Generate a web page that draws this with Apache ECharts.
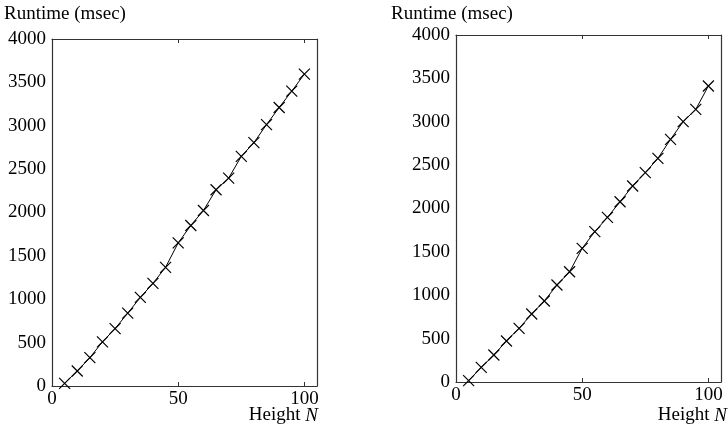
<!DOCTYPE html>
<html>
<head>
<meta charset="utf-8">
<script src="https://cdn.jsdelivr.net/npm/echarts@6/dist/echarts.min.js"></script>
<style>
html,body{margin:0;padding:0;background:#fff;}
#c{width:728px;height:428px;}
</style>
</head>
<body>
<div id="c"></div>
<script>
// Data
var heights = [5, 10, 15, 20, 25, 30, 35, 40, 45, 50, 55, 60, 65, 70, 75, 80, 85, 90, 95, 100];
var runtimeLeft = [30, 173, 327, 509, 662, 840, 1021, 1183, 1368, 1650, 1850, 2023, 2262, 2397, 2647, 2805, 3013, 3210, 3399, 3595];
var runtimeRight = [15, 169, 311, 473, 619, 784, 934, 1118, 1271, 1541, 1733, 1898, 2078, 2259, 2413, 2578, 2797, 3001, 3143, 3412];
var xTickLabels = [0, 50, 100];
var yTitle = 'Runtime (msec)';
var xTitleText = 'Height ';
var xTitleVar = 'N';

var FONT = '"Liberation Serif", "DejaVu Serif", serif';
var AX = '#333';
var TXT = '#000';

function pairs(xs, ys) { return xs.map(function (x, i) { return [x, ys[i]]; }); }

function xAxes(gi) {
  return [
    { gridIndex: gi, type: 'value', min: 0, max: 105, interval: 50, position: 'bottom',
      axisLine: { show: true, onZero: false, lineStyle: { color: AX, width: 1.2 } },
      axisTick: { show: true, inside: true, length: 4, customValues: [50, 100], lineStyle: { color: AX } },
      axisLabel: { show: true, customValues: xTickLabels, margin: 4, color: TXT, fontFamily: FONT, fontSize: 19 },
      splitLine: { show: false } },
    { gridIndex: gi, type: 'value', min: 0, max: 105, interval: 50, position: 'top',
      axisLine: { show: true, onZero: false, lineStyle: { color: AX, width: 1.2 } },
      axisTick: { show: true, inside: true, length: 4, customValues: [50, 100], lineStyle: { color: AX } },
      axisLabel: { show: false }, splitLine: { show: false } }
  ];
}
function yAxes(gi) {
  return [
    { gridIndex: gi, type: 'value', min: 0, max: 4000, interval: 500, position: 'left',
      axisLine: { show: true, onZero: false, lineStyle: { color: AX, width: 1.2 } },
      axisTick: { show: false },
      axisLabel: { show: true, margin: 6, color: TXT, fontFamily: FONT, fontSize: 19,
        formatter: function (v) { return String(v); } },
      splitLine: { show: false } },
    { gridIndex: gi, type: 'value', min: 0, max: 4000, interval: 500, position: 'right',
      axisLine: { show: true, onZero: false, lineStyle: { color: AX, width: 1.2 } },
      axisTick: { show: false }, axisLabel: { show: false }, splitLine: { show: false } }
  ];
}
var cross = 'path://M0,0L10,10M10,0L0,10';
function series(xi, yi, data) {
  return {
    type: 'line', xAxisIndex: xi, yAxisIndex: yi, data: data,
    symbol: cross, symbolSize: 11, showSymbol: true, animation: false,
    lineStyle: { color: '#000', width: 1 },
    itemStyle: { color: 'rgba(0,0,0,0)', borderColor: '#000', borderWidth: 1.2 },
    emphasis: { disabled: true }
  };
}
function xName() {
  return { text: '{a|' + xTitleText + '}{b|' + xTitleVar + '}',
    rich: { a: { fontFamily: FONT, fontSize: 19, fill: TXT }, b: { fontFamily: FONT, fontSize: 19, fontStyle: 'italic', fill: TXT } } };
}

var chart = echarts.init(document.getElementById('c'), null, { renderer: 'canvas' });
chart.setOption({
  animation: false,
  backgroundColor: '#fff',
  title: [
    { text: yTitle, left: 4, top: 5, padding: 0, textStyle: { fontFamily: FONT, fontWeight: 'normal', fontSize: 19, color: TXT } },
    { text: yTitle, left: 391, top: 5, padding: 0, textStyle: { fontFamily: FONT, fontWeight: 'normal', fontSize: 19, color: TXT } }
  ],
  grid: [
    { left: 52, top: 39, width: 265, height: 347 },
    { left: 456, top: 35, width: 265, height: 347 }
  ],
  xAxis: xAxes(0).concat(xAxes(1)),
  yAxis: yAxes(0).concat(yAxes(1)),
  series: [
    series(0, 0, pairs(heights, runtimeLeft)),
    series(2, 2, pairs(heights, runtimeRight))
  ],
  graphic: [
    { type: 'text', right: 728 - 318, top: 406, style: xName() },
    { type: 'text', right: 1, top: 406, style: xName() }
  ]
});
</script>
</body>
</html>
